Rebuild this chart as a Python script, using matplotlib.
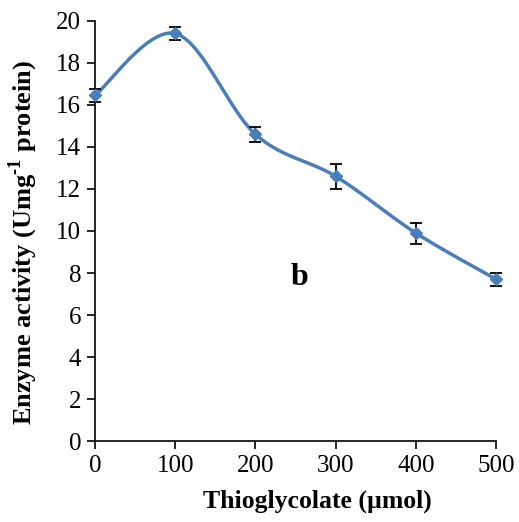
import numpy as np
import matplotlib
matplotlib.use("Agg")
import matplotlib.pyplot as plt

# ── Data ──────────────────────────────────────────────────────────────────────
conc = [0, 100, 200, 300, 400, 500]
activity = [16.45, 19.4, 14.6, 12.6, 9.9, 7.7]
err = [0.3, 0.3, 0.35, 0.6, 0.5, 0.3]
xticks = [0, 100, 200, 300, 400, 500]
yticks = [0, 2, 4, 6, 8, 10, 12, 14, 16, 18, 20]


def smooth(xs, ys, n=60):
    """Excel-like smoothed line (Catmull-Rom via cubic Bezier segments)."""
    xs = np.asarray(xs, float)
    ys = np.asarray(ys, float)
    px = np.concatenate([[xs[0]], xs, [xs[-1]]])
    py = np.concatenate([[ys[0]], ys, [ys[-1]]])
    out_x, out_y = [], []
    t = np.linspace(0, 1, n)
    for i in range(1, len(px) - 2):
        p0 = np.array([px[i], py[i]])
        p3 = np.array([px[i + 1], py[i + 1]])
        c1 = p0 + (np.array([px[i + 1], py[i + 1]]) - np.array([px[i - 1], py[i - 1]])) / 6
        c2 = p3 - (np.array([px[i + 2], py[i + 2]]) - np.array([px[i], py[i]])) / 6
        b = ((1 - t) ** 3)[:, None] * p0 + (3 * (1 - t) ** 2 * t)[:, None] * c1 \
            + (3 * (1 - t) * t ** 2)[:, None] * c2 + (t ** 3)[:, None] * p3
        out_x.extend(b[:, 0])
        out_y.extend(b[:, 1])
    return out_x, out_y


plt.rcParams["font.family"] = "Liberation Serif"
plt.rcParams["mathtext.fontset"] = "custom"
plt.rcParams["mathtext.rm"] = "Liberation Serif:bold"
plt.rcParams["mathtext.bf"] = "Liberation Serif:bold"

BLUE = "#4A7EBB"

fig = plt.figure(figsize=(5.19, 5.22), dpi=100)
ax = fig.add_axes([0.183, 0.155, 0.773, 0.805])

sx, sy = smooth(conc, activity)
ax.plot(sx, sy, color=BLUE, lw=2.5, zorder=3, clip_on=False)
ax.errorbar(conc, activity, yerr=err, fmt="none", ecolor="black",
            elinewidth=1.3, capsize=4, capthick=1.3, zorder=4, clip_on=False)
ax.plot(conc, activity, ls="none", marker="D", ms=6.5, color=BLUE, zorder=5,
        clip_on=False)

ax.text(255, 7.8, "b", fontsize=23, fontweight="bold", ha="center", va="center")

ax.set_xlim(0, 500)
ax.set_ylim(0, 20)
ax.set_xticks(xticks)
ax.set_yticks(yticks)
ax.tick_params(labelsize=18, direction="out", length=6, width=1.2,
               colors="black", pad=4)
for s in ["top", "right"]:
    ax.spines[s].set_visible(False)
for s in ["left", "bottom"]:
    ax.spines[s].set_linewidth(1.2)

fig.text(317 / 519, 1 - 501 / 522, "Thioglycolate (µmol)", fontsize=18.5,
         fontweight="bold", ha="center", va="center")
fig.text(23 / 519, 1 - 242 / 522, r"Enzyme activity (Umg$^{\text{-1}}$ protein)",
         fontsize=19, fontweight="bold", rotation=90, ha="center", va="center")

fig.savefig("out.png", dpi=100)
